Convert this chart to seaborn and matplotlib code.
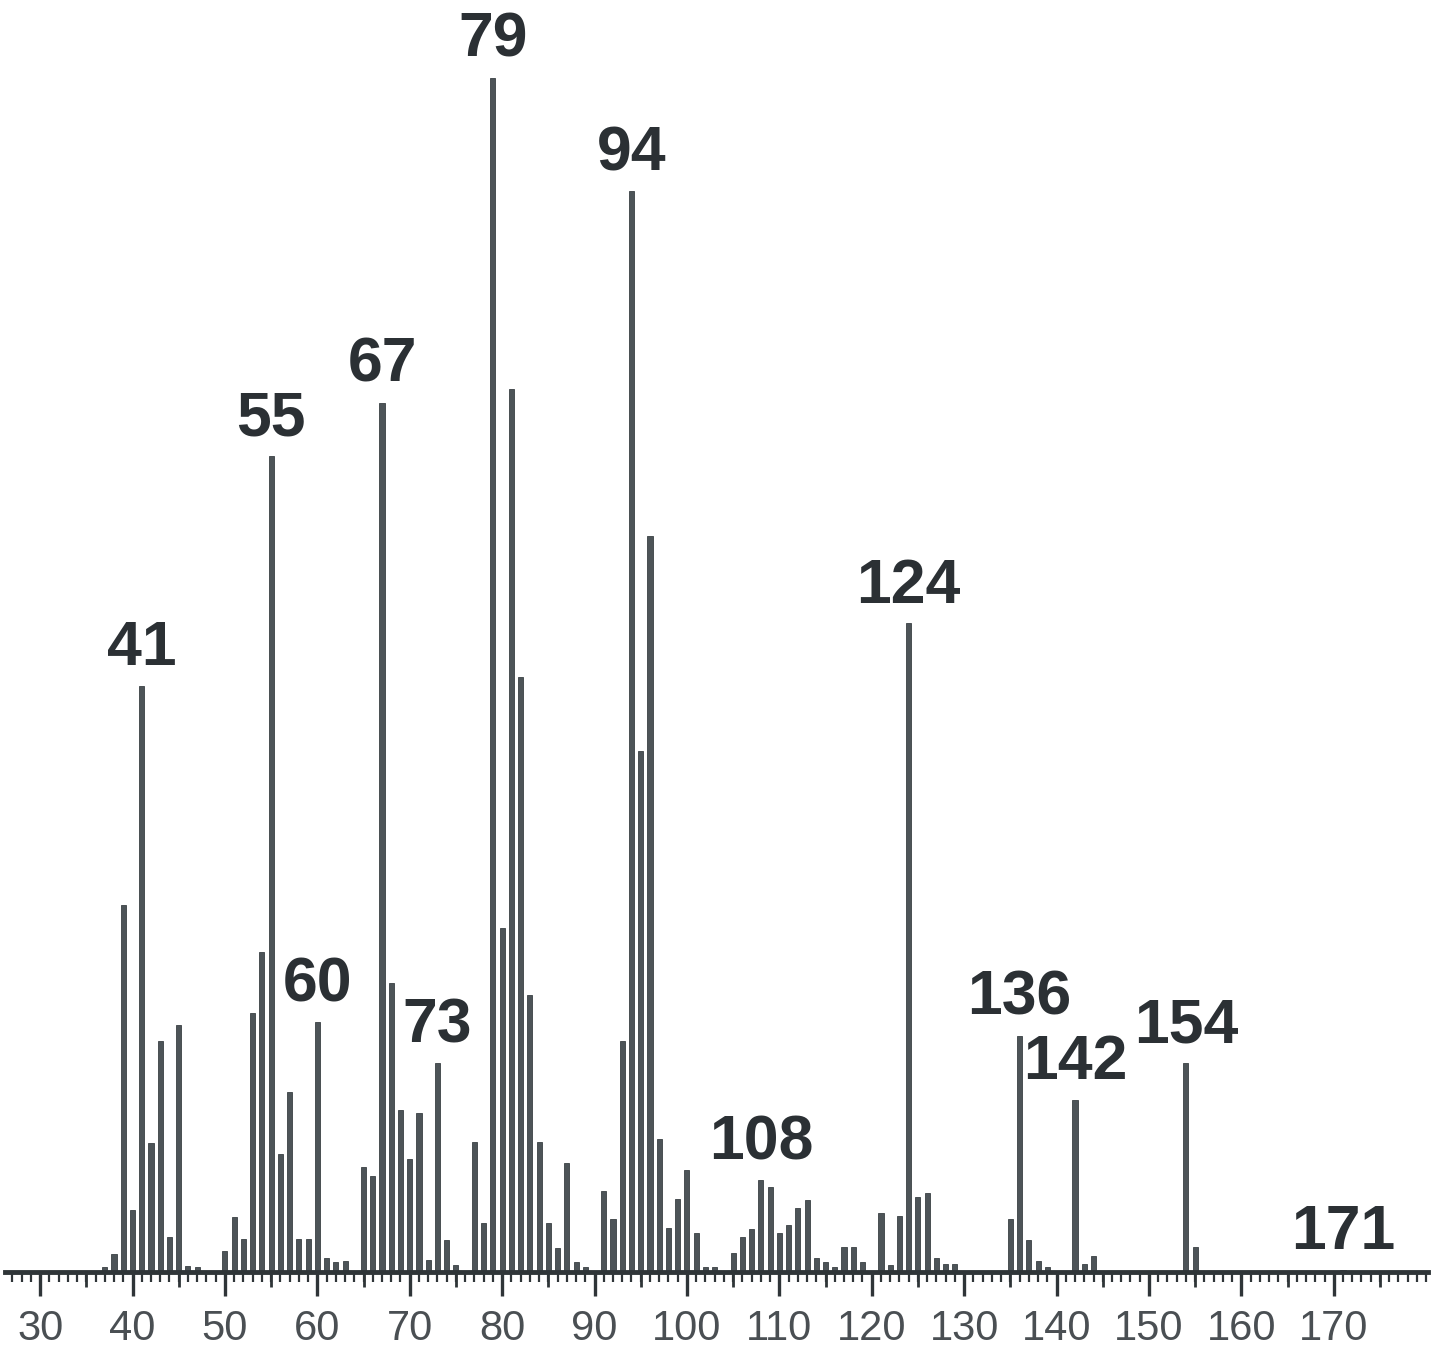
import matplotlib
matplotlib.use("Agg")
import matplotlib.pyplot as plt
import seaborn as sns
import pandas as pd
from matplotlib.ticker import MultipleLocator, FixedLocator

# ---- data (m/z, relative intensity %) ----
mz = [37, 38, 39, 40, 41, 42, 43, 44, 45, 46, 47,
      50, 51, 52, 53, 54, 55, 56, 57, 58, 59, 60, 61, 62, 63,
      65, 66, 67, 68, 69, 70, 71, 72, 73, 74, 75,
      77, 78, 79, 80, 81, 82, 83, 84, 85, 86, 87, 88, 89,
      91, 92, 93, 94, 95, 96, 97, 98, 99, 100, 101, 102, 103,
      105, 106, 107, 108, 109, 110, 111, 112, 113, 114, 115, 116, 117, 118, 119,
      121, 122, 123, 124, 125, 126, 127, 128, 129,
      135, 136, 137, 138, 139,
      142, 143, 144,
      154, 155, 171]
intensity = [0.4, 1.5, 30.7, 5.2, 49.1, 10.8, 19.3, 2.9, 20.7, 0.5, 0.4,
             1.8, 4.6, 2.8, 21.7, 26.8, 68.3, 9.9, 15.1, 2.8, 2.8, 20.9, 1.2, 0.8, 0.9,
             8.8, 8.0, 72.8, 24.2, 13.6, 9.5, 13.3, 1.0, 17.5, 2.7, 0.6,
             10.9, 4.1, 100.0, 28.8, 73.9, 49.8, 23.2, 10.9, 4.1, 2.0, 9.1, 0.8, 0.4,
             6.8, 4.4, 19.3, 90.5, 43.6, 61.6, 11.1, 3.7, 6.1, 8.5, 3.3, 0.4, 0.4,
             1.6, 2.9, 3.6, 7.7, 7.1, 3.3, 3.9, 5.4, 6.0, 1.2, 0.8, 0.4, 2.1, 2.1, 0.8,
             4.9, 0.6, 4.7, 54.3, 6.3, 6.6, 1.2, 0.7, 0.7,
             4.4, 19.8, 2.7, 0.9, 0.4,
             14.4, 0.7, 1.3,
             17.5, 2.1, 0.2]
labeled_peaks = [41, 55, 60, 67, 73, 79, 94, 108, 124, 136, 142, 154, 171]
tick_values = list(range(30, 180, 10))
tick_labels = [str(v) for v in tick_values]

df = pd.DataFrame({"mz": mz, "intensity": intensity})

sns.set_style("white")
plt.rcParams["font.family"] = ["Liberation Sans", "DejaVu Sans"]

W, H = 1437, 1349
fig = plt.figure(figsize=(W / 100, H / 100), dpi=100)
ax_left, ax_right = 5 / W, 1428 / W
ax_bottom = (H - 1272) / H
ax = fig.add_axes([ax_left, ax_bottom, ax_right - ax_left, 1 - ax_bottom])

sns.barplot(data=df, x="mz", y="intensity", native_scale=True, width=0.55,
            color="#4d5458", saturation=1, edgecolor="#3a4043", linewidth=0.6, ax=ax)

ax.set_xlim(26.2, 180.2)
ax.set_ylim(0, 106.5)

for s in ["top", "right", "left"]:
    ax.spines[s].set_visible(False)
ax.spines["bottom"].set_linewidth(3.5)
ax.spines["bottom"].set_color("#2f3538")
ax.set_yticks([])
ax.set_xlabel("")
ax.set_ylabel("")

ax.xaxis.set_major_locator(FixedLocator(tick_values))
ax.set_xticklabels(tick_labels)
ax.xaxis.set_minor_locator(MultipleLocator(1))
ax.tick_params(axis="x", which="both", bottom=True)
ax.tick_params(axis="x", which="major", direction="out", length=17, width=2.4,
               color="#2f3538", labelsize=30, labelcolor="#4a4f53", pad=10)
ax.tick_params(axis="x", which="minor", direction="out", length=7, width=1.6,
               color="#2f3538")

sec = ax.secondary_xaxis("bottom")
sec.set_xticks([v for v in range(25, 181, 10)])
sec.tick_params(axis="x", which="both", bottom=True, direction="out", length=11,
                width=2, color="#2f3538", labelbottom=False)
sec.xaxis.set_minor_locator(FixedLocator([]))
sec.spines["bottom"].set_visible(False)

lookup = dict(zip(mz, intensity))
for p in labeled_peaks:
    ax.annotate(str(p), xy=(p, lookup[p]), xytext=(0, 15), textcoords="offset points",
                ha="center", va="baseline", fontsize=45, fontweight="bold",
                color="#2b3034")

fig.savefig("out.png", dpi=100)
